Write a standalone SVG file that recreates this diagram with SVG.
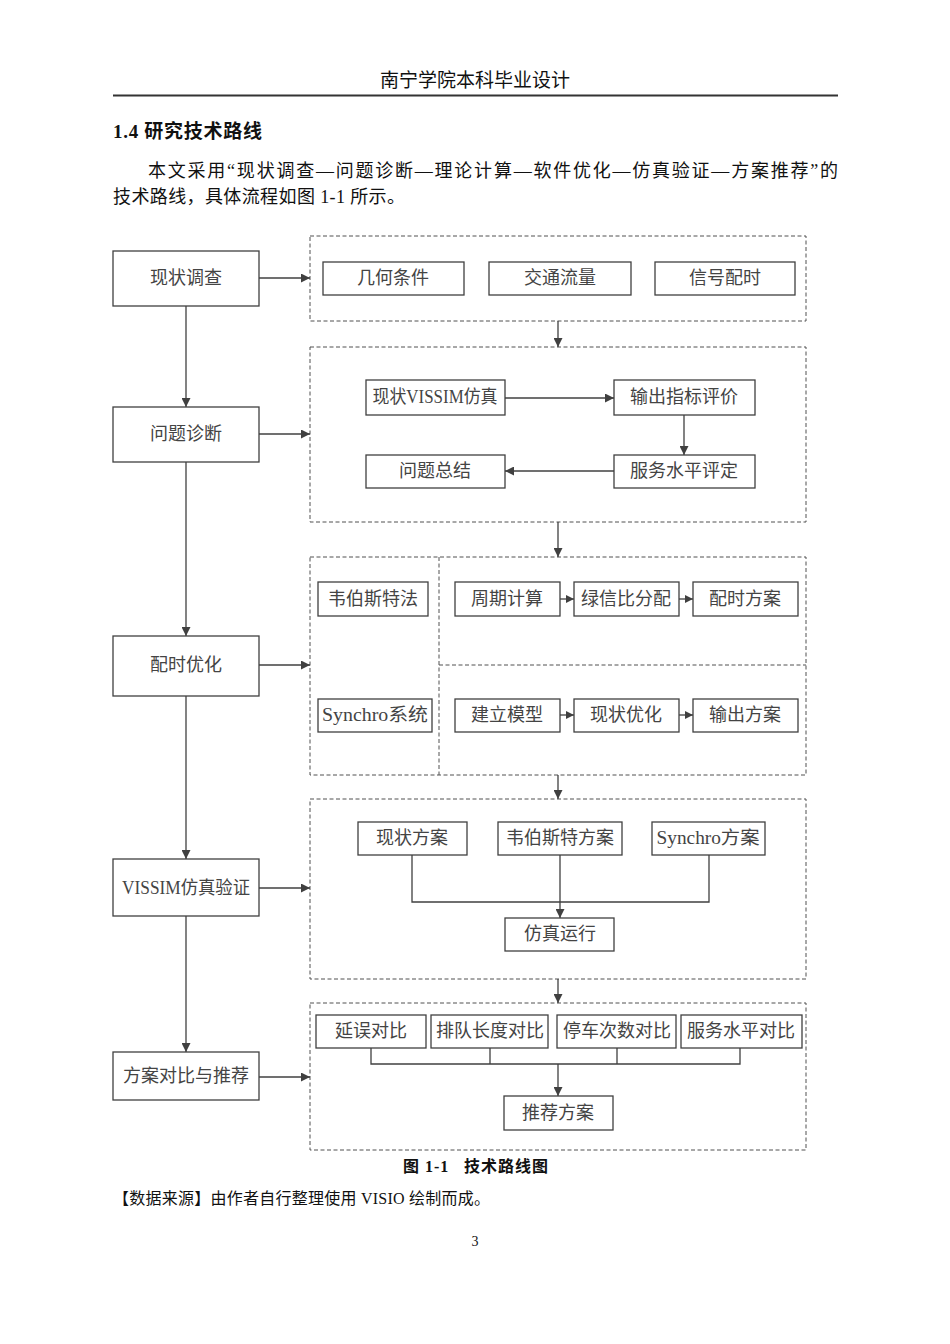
<svg xmlns="http://www.w3.org/2000/svg" width="950" height="1344" viewBox="0 0 950 1344">
<style>
.bx{fill:#fff;stroke:#404040;stroke-width:1.3}
.db{fill:none;stroke:#505050;stroke-width:1;stroke-dasharray:4 2.5}
.ln{fill:none;stroke:#404040;stroke-width:1.3}
.t{font-family:"Liberation Serif","Noto Sans CJK SC",serif;font-size:18px;fill:#444;text-anchor:middle;dominant-baseline:central}
.p{font-family:"Liberation Serif","Noto Sans CJK SC",serif;fill:#111}
</style>
<defs>
<marker id="a" viewBox="0 0 10 10" refX="10" refY="5" markerWidth="11" markerHeight="9" orient="auto" markerUnits="userSpaceOnUse"><path d="M0,0 L10,5 L0,10 z" fill="#404040"/></marker>
<marker id="s" viewBox="0 0 10 10" refX="10" refY="5" markerWidth="9" markerHeight="8" orient="auto" markerUnits="userSpaceOnUse"><path d="M0,0 L10,5 L0,10 z" fill="#404040"/></marker>
</defs>
<rect width="950" height="1344" fill="#fff"/>
<g id="page">
<text class="p" x="475" y="87" font-size="19" text-anchor="middle" fill="#222">南宁学院本科毕业设计</text>
<line x1="113" y1="95.5" x2="838" y2="95.5" stroke="#333" stroke-width="2"/>
<text class="p" x="113" y="138" font-size="19" font-weight="bold" textLength="149" lengthAdjust="spacing">1.4 研究技术路线</text>
<text class="p" x="148" y="177" font-size="18" textLength="690" lengthAdjust="spacing">本文采用“现状调查—问题诊断—理论计算—软件优化—仿真验证—方案推荐”的</text>
<text class="p" x="113" y="203" font-size="18" textLength="292" lengthAdjust="spacing">技术路线，具体流程如图 1-1 所示。</text>
<text class="p" x="403" y="1172" font-size="16" font-weight="bold" xml:space="preserve" textLength="145" lengthAdjust="spacing">图 1-1   技术路线图</text>
<text class="p" x="113" y="1204" font-size="16" textLength="377" lengthAdjust="spacing">【数据来源】由作者自行整理使用 VISIO 绘制而成。</text>
<text class="p" x="475" y="1246" font-size="14" text-anchor="middle">3</text>
</g>
<g id="groups">
<rect id="g1" class="db" x="310" y="236" width="496" height="85"/>
<rect id="g2" class="db" x="310" y="347" width="496" height="175"/>
<g id="g3">
<rect class="db" x="310" y="557" width="496" height="218"/>
<line class="db" x1="439" y1="557" x2="439" y2="775"/>
<line class="db" x1="439" y1="665" x2="806" y2="665"/>
</g>
<rect id="g4" class="db" x="310" y="799" width="496" height="180"/>
<rect id="g5" class="db" x="310" y="1003" width="496" height="147"/>
</g>
<g id="connectors">
<path class="ln" d="M186,306 V407" marker-end="url(#a)"/>
<path class="ln" d="M186,462 V636" marker-end="url(#a)"/>
<path class="ln" d="M186,696 V859" marker-end="url(#a)"/>
<path class="ln" d="M186,916 V1052" marker-end="url(#a)"/>
<path class="ln" d="M259,278 H310" marker-end="url(#a)"/>
<path class="ln" d="M259,434 H310" marker-end="url(#a)"/>
<path class="ln" d="M259,665 H310" marker-end="url(#a)"/>
<path class="ln" d="M259,888 H310" marker-end="url(#a)"/>
<path class="ln" d="M259,1077 H310" marker-end="url(#a)"/>
<path class="ln" d="M558,321 V347" marker-end="url(#a)"/>
<path class="ln" d="M558,522 V557" marker-end="url(#a)"/>
<path class="ln" d="M558,775 V799" marker-end="url(#a)"/>
<path class="ln" d="M558,979 V1003" marker-end="url(#a)"/>
<path class="ln" d="M505,398 H614" marker-end="url(#a)"/>
<path class="ln" d="M684,415 V455" marker-end="url(#a)"/>
<path class="ln" d="M614,471 H505" marker-end="url(#a)"/>
<path class="ln" d="M560,599 H574" marker-end="url(#s)"/>
<path class="ln" d="M679,599 H693" marker-end="url(#s)"/>
<path class="ln" d="M560,715 H574" marker-end="url(#s)"/>
<path class="ln" d="M679,715 H693" marker-end="url(#s)"/>
<path class="ln" d="M412,855 V902 H709 V855"/>
<path class="ln" d="M560,855 V918" marker-end="url(#a)"/>
<path class="ln" d="M371,1048 V1064 H740 V1048 M490,1048 V1064 M617,1048 V1064"/>
<path class="ln" d="M558,1064 V1096" marker-end="url(#a)"/>
</g>
<g id="n1"><rect class="bx" x="113" y="251" width="146" height="55"/><text class="t" x="186" y="278">现状调查</text></g>
<g id="n2"><rect class="bx" x="113" y="407" width="146" height="55"/><text class="t" x="186" y="434">问题诊断</text></g>
<g id="n3"><rect class="bx" x="113" y="636" width="146" height="60"/><text class="t" x="186" y="665">配时优化</text></g>
<g id="n4"><rect class="bx" x="113" y="859" width="146" height="57"/><text class="t" x="186" y="888" textLength="128" lengthAdjust="spacingAndGlyphs">VISSIM仿真验证</text></g>
<g id="n5"><rect class="bx" x="113" y="1052" width="146" height="48"/><text class="t" x="186" y="1076">方案对比与推荐</text></g>
<g id="n6"><rect class="bx" x="323" y="262" width="141" height="33"/><text class="t" x="393" y="278">几何条件</text></g>
<g id="n7"><rect class="bx" x="489" y="262" width="142" height="33"/><text class="t" x="560" y="278">交通流量</text></g>
<g id="n8"><rect class="bx" x="655" y="262" width="140" height="33"/><text class="t" x="725" y="278">信号配时</text></g>
<g id="n9"><rect class="bx" x="366" y="380" width="139" height="35"/><text class="t" x="435" y="397" textLength="125" lengthAdjust="spacingAndGlyphs">现状VISSIM仿真</text></g>
<g id="n10"><rect class="bx" x="614" y="380" width="141" height="35"/><text class="t" x="684" y="397">输出指标评价</text></g>
<g id="n11"><rect class="bx" x="614" y="455" width="141" height="33"/><text class="t" x="684" y="471">服务水平评定</text></g>
<g id="n12"><rect class="bx" x="366" y="455" width="139" height="33"/><text class="t" x="435" y="471">问题总结</text></g>
<g id="n13"><rect class="bx" x="318" y="582" width="110" height="34"/><text class="t" x="373" y="599">韦伯斯特法</text></g>
<g id="n14"><rect class="bx" x="318" y="699" width="114" height="33"/><text class="t" x="375" y="715" textLength="106" lengthAdjust="spacingAndGlyphs">Synchro系统</text></g>
<g id="n15"><rect class="bx" x="455" y="582" width="105" height="34"/><text class="t" x="507" y="599">周期计算</text></g>
<g id="n16"><rect class="bx" x="574" y="582" width="105" height="34"/><text class="t" x="626" y="599">绿信比分配</text></g>
<g id="n17"><rect class="bx" x="693" y="582" width="105" height="34"/><text class="t" x="745" y="599">配时方案</text></g>
<g id="n18"><rect class="bx" x="455" y="699" width="105" height="33"/><text class="t" x="507" y="715">建立模型</text></g>
<g id="n19"><rect class="bx" x="574" y="699" width="105" height="33"/><text class="t" x="626" y="715">现状优化</text></g>
<g id="n20"><rect class="bx" x="693" y="699" width="105" height="33"/><text class="t" x="745" y="715">输出方案</text></g>
<g id="n21"><rect class="bx" x="358" y="822" width="109" height="33"/><text class="t" x="412" y="838">现状方案</text></g>
<g id="n22"><rect class="bx" x="498" y="822" width="124" height="33"/><text class="t" x="560" y="838">韦伯斯特方案</text></g>
<g id="n23"><rect class="bx" x="652" y="822" width="113" height="33"/><text class="t" x="708" y="838" textLength="103" lengthAdjust="spacingAndGlyphs">Synchro方案</text></g>
<g id="n24"><rect class="bx" x="505" y="918" width="109" height="33"/><text class="t" x="560" y="934">仿真运行</text></g>
<g id="n25"><rect class="bx" x="316" y="1015" width="110" height="33"/><text class="t" x="371" y="1031">延误对比</text></g>
<g id="n26"><rect class="bx" x="431" y="1015" width="117" height="33"/><text class="t" x="490" y="1031">排队长度对比</text></g>
<g id="n27"><rect class="bx" x="557" y="1015" width="119" height="33"/><text class="t" x="617" y="1031">停车次数对比</text></g>
<g id="n28"><rect class="bx" x="681" y="1015" width="121" height="33"/><text class="t" x="741" y="1031">服务水平对比</text></g>
<g id="n29"><rect class="bx" x="504" y="1096" width="109" height="34"/><text class="t" x="558" y="1113">推荐方案</text></g>
</svg>
